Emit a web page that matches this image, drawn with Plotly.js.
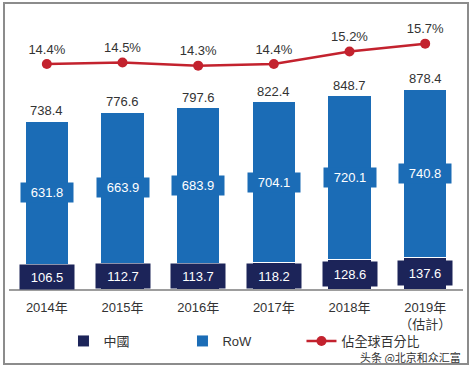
<!DOCTYPE html>
<html><head><meta charset="utf-8">
<script src="https://cdn.plot.ly/plotly-3.0.1.min.js"></script>
<style>
html,body{margin:0;padding:0;background:#fff;}
#chart{width:472px;height:367px;}
#frame{position:absolute;left:3px;top:2px;width:462px;height:359px;border:2px solid #8c8c8c;pointer-events:none;}
</style>
</head><body>
<div id="chart"></div><div id="frame"></div>
<script>
const years = ['2014年','2015年','2016年','2017年','2018年','2019年<br>（估計）'];
const china = [106.5,112.7,113.7,118.2,128.6,137.6];
const row = [631.8,663.9,683.9,704.1,720.1,740.8];
const totals = [738.4,776.6,797.6,822.4,848.7,878.4];
const share = [14.4,14.5,14.3,14.4,15.2,15.7];

const FONT = 'Liberation Sans, Arial, Noto Sans CJK TC, sans-serif';
const NAVY = '#1c2459';
const BLUE = '#1b6cb6';
const RED = '#c3222e';

const traces = [
  {type:'bar', name:'中國', x:years, y:china, marker:{color:NAVY, line:{color:'#fff', width:1}}, hoverinfo:'skip'},
  {type:'bar', name:'RoW', x:years, y:row, marker:{color:BLUE, line:{color:'#fff', width:1}}, hoverinfo:'skip'},
  {type:'scatter', mode:'lines+markers+text', name:'佔全球百分比', x:years, y:share, yaxis:'y2',
   line:{color:RED, width:2.5}, marker:{color:RED, size:10},
   text:share.map(v=>v.toFixed(1)+'%'), textposition:'top center',
   textfont:{size:13, color:'#333', family:FONT}, cliponaxis:false, hoverinfo:'skip'}
];

const annotations = [];
years.forEach((yr,i)=>{
  annotations.push({x:yr, y:totals[i], xref:'x', yref:'y', text:totals[i].toFixed(1), showarrow:false,
    yanchor:'bottom', yshift:1, font:{size:13, color:'#333', family:FONT}});
  annotations.push({x:yr, y:china[i]+row[i]/2, xref:'x', yref:'y', text:row[i].toFixed(1), showarrow:false,
    bgcolor:BLUE, width:48, height:15, borderpad:2, font:{size:13, color:'#fff', family:FONT}});
  annotations.push({x:yr, y:china[i]/2, xref:'x', yref:'y', text:china[i].toFixed(1), showarrow:false,
    bgcolor:NAVY, width:48, height:18, borderpad:3, font:{size:13, color:'#fff', family:FONT}});
});
annotations.push({xref:'paper', yref:'paper', x:0.998, y:-0.2625, xanchor:'right', yanchor:'middle', showarrow:false,
  text:'头条 @北京和众汇富', font:{size:11, color:'#333', family:'Noto Sans CJK SC, sans-serif'}, borderpad:0});

const layout = {
  width:472, height:367,
  margin:{l:9, r:9, t:30, b:78},
  paper_bgcolor:'#fff', plot_bgcolor:'#fff',
  barmode:'stack', bargap:0.43,
  font:{family:FONT, color:'#333', size:13},
  showlegend:true,
  legend:{orientation:'h', x:0.12, y:-0.2008, xanchor:'left', yanchor:'middle', bgcolor:'rgba(0,0,0,0)',
    entrywidth:74, entrywidthmode:'pixels', font:{size:13, color:'#333', family:FONT},
    traceorder:'normal'},
  xaxis:{type:'category', showline:true, linecolor:'#9d9d9d', linewidth:2, ticks:'',
    ticklabelstandoff:5, tickfont:{size:13, color:'#333', family:FONT}, showgrid:false, zeroline:false, fixedrange:true},
  yaxis:{range:[0,1138.5], visible:false, showgrid:false, zeroline:false, fixedrange:true},
  yaxis2:{range:[0.08,16.57], overlaying:'y', side:'right', visible:false, showgrid:false, zeroline:false, fixedrange:true},
  annotations:annotations
};

Plotly.newPlot('chart', traces, layout, {staticPlot:true, displayModeBar:false});
</script>
</body></html>
